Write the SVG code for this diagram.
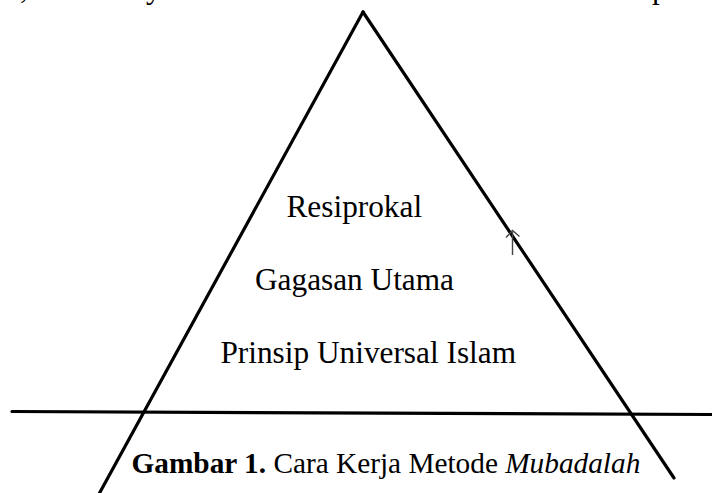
<svg xmlns="http://www.w3.org/2000/svg" width="712" height="493" viewBox="0 0 712 493">
<style>
.t{font-family:"Liberation Serif","Times New Roman",serif;font-size:31.3px;fill:#000}
.c{font-family:"Liberation Serif","Times New Roman",serif;font-size:29.3px;fill:#000}
.ln{stroke:#000;stroke-width:3.2;fill:none;stroke-linecap:round}
.ar{stroke:#444;stroke-width:1.4;fill:none}
</style>
<rect width="712" height="493" fill="#fff"/>
<g id="page-text-fragments">
<text class="t" x="20" y="-2">,</text>
<text class="t" x="146" y="-2">y</text>
<text class="t" x="652" y="-2">p</text>
</g>
<g id="connectors">
<line class="ln" x1="363" y1="12" x2="99" y2="494"/>
<line class="ln" x1="363" y1="12" x2="674" y2="478"/>
<line class="ln" x1="12" y1="411.5" x2="714" y2="414.5"/>
<g id="arrow">
<line class="ar" x1="512.5" y1="255" x2="512.5" y2="231.5"/>
<polyline class="ar" points="506,237.5 512.5,230.5 519.5,236.5"/>
</g>
</g>
<g id="node-resiprokal"><text class="t" x="286.5" y="217">Resiprokal</text></g>
<g id="node-gagasan"><text class="t" x="255" y="290">Gagasan Utama</text></g>
<g id="node-prinsip"><text class="t" x="516" y="363" text-anchor="end">Prinsip Universal Islam</text></g>
<g id="caption"><text class="c" x="131.5" y="473"><tspan font-weight="bold">Gambar 1.</tspan> Cara Kerja Metode <tspan font-style="italic">Mubadalah</tspan></text></g>
</svg>
